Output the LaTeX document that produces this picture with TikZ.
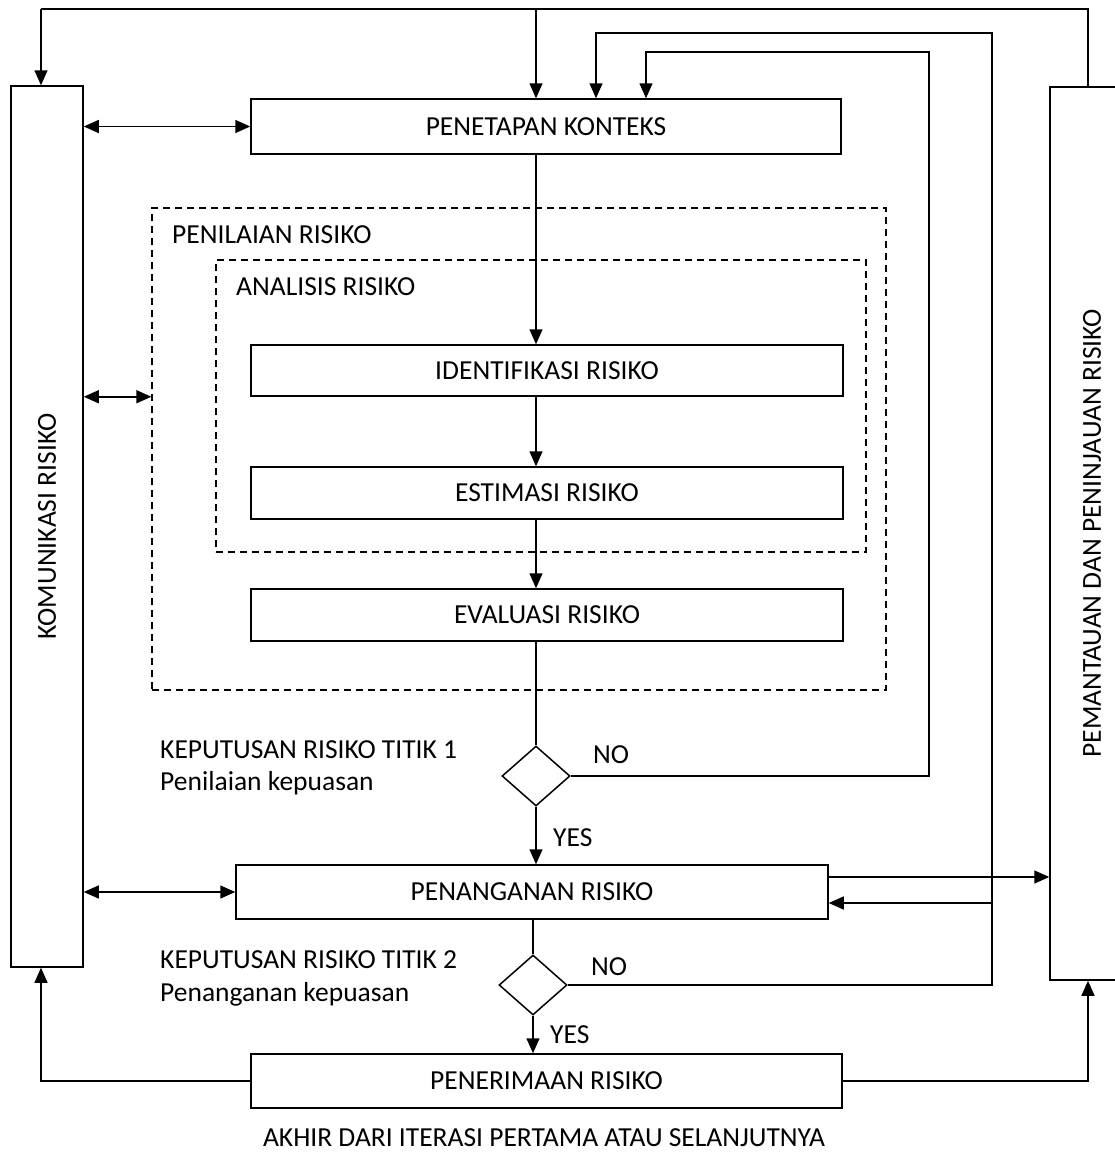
\documentclass[tikz,border=0pt]{standalone}
\usepackage{fontspec}
\setmainfont{Carlito}
\usetikzlibrary{
  arrows.meta,
  positioning,
  shapes.geometric,
}
\tikzset{
  >={Triangle[length=15pt,width=13pt]},
  every node/.append style={font=\fontsize{27.5}{33}\selectfont, text=black},
  box/.style={draw, line width=1.5pt, inner sep=0pt, align=center},
  frame/.style={draw, line width=1.3pt, dash pattern=on 7pt off 5pt, inner sep=0pt},
  choice/.style={
    shape=diamond,
    draw,
    line width=1.5pt,
    inner sep=0pt,
    minimum width=68pt,
    minimum height=60pt,
  },
  tag/.style={anchor=west, inner sep=0pt},
  flow/.style={line width=1.5pt},
}

\begin{document}
\begin{tikzpicture}[x=1pt,y=-1pt]
  \useasboundingbox (0,0) rectangle (1114,1154);

  % side boxes
  \node[box, minimum width=72pt, minimum height=881pt] (kom) at (47,526.5) {\rotatebox{90}{KOMUNIKASI RISIKO}};
  \node[box, minimum width=84pt, minimum height=893pt] (pem) at (1092,533.5) {\rotatebox{90}{PEMANTAUAN DAN PENINJAUAN RISIKO}};

  % assessment frames
  \node[frame, minimum width=734pt, minimum height=482pt] (assess) at (519,449) {};
  \node[frame, minimum width=650pt, minimum height=292pt] (analysis) at (541,406) {};
  \node[tag] (assesslbl) at (172,235) {PENILAIAN RISIKO};
  \node[tag] (analysislbl) at (236,287) {ANALISIS RISIKO};

  % process boxes
  \node[box, minimum width=590pt, minimum height=55pt] (ctx) at (546,126.5) {PENETAPAN KONTEKS};
  \node[box, minimum width=592pt, minimum height=51pt] (idf) at (547,370.5) {IDENTIFIKASI RISIKO};
  \node[box, minimum width=592pt, minimum height=52pt] (est) at (547,493) {ESTIMASI RISIKO};
  \node[box, minimum width=592pt, minimum height=52pt] (eva) at (547,615) {EVALUASI RISIKO};
  \node[box, minimum width=592pt, minimum height=54pt] (trt) at (532,892) {PENANGANAN RISIKO};
  \node[box, minimum width=591pt, minimum height=54pt] (acc) at (546.5,1081) {PENERIMAAN RISIKO};

  % decisions
  \node[choice] (d1) at (536,776) {};
  \node[choice] (d2) at (533,985) {};
  \node[tag] (d1top) at (160,750) {KEPUTUSAN RISIKO TITIK 1};
  \node[tag] (d1sub) at (160,783) {Penilaian kepuasan};
  \node[tag] (d2top) at (160,960) {KEPUTUSAN RISIKO TITIK 2};
  \node[tag] (d2sub) at (160,994) {Penanganan kepuasan};
  \node[tag] (d1no) at (593,755) {NO};
  \node[tag] (d1yes) at (553,838) {YES};
  \node[tag] (d2no) at (591,967) {NO};
  \node[tag] (d2yes) at (550,1035) {YES};

  \node (endnote) at (544,1138) {AKHIR DARI ITERASI PERTAMA ATAU SELANJUTNYA};

  % main flow
  \draw[flow,->] (d1 |- ctx.south) -- (d1 |- idf.north);
  \draw[flow,->] (d1 |- idf.south) -- (d1 |- est.north);
  \draw[flow,->] (d1 |- est.south) -- (d1 |- eva.north);
  \draw[flow] (d1 |- eva.south) -- (d1.north);
  \draw[flow,->] (d1.south) -- (d1 |- trt.north);
  \draw[flow] (d2 |- trt.south) -- (d2.north);
  \draw[flow,->] (d2.south) -- (d2 |- acc.north);

  % communication links
  \draw[flow,<->] (kom.east |- ctx.west) -- (ctx.west);
  \draw[flow,<->] (kom.east |- idf.south) -- (assess.west |- idf.south);
  \draw[flow,<->] (kom.east |- trt.west) -- (trt.west);

  % top feedback
  \coordinate (topR) at (1088,9);
  \coordinate (topL) at (41,9);
  \draw[flow] (pem.north -| topR) -- (topR) -- (topL);
  \draw[flow,->] (topL) -- (topL |- kom.north);
  \draw[flow,->] (d1 |- topL) -- (d1 |- ctx.north);

  % NO loops
  \coordinate (loopA) at (929,52);
  \coordinate (loopAx) at (646,52);
  \draw[flow,->] (d1.east) -| (loopA) -- (loopAx) -- (loopAx |- ctx.north);
  \coordinate (loopB) at (992,33);
  \coordinate (loopBx) at (596,33);
  \draw[flow,->] (d2.east) -| (loopB) -- (loopBx) -- (loopBx |- ctx.north);
  \coordinate (back) at (992,903);
  \draw[flow,->] (back) -- (back -| trt.east);
  \coordinate (out) at (0,877);
  \draw[flow,->] (trt.east |- out) -- (pem.west |- out);

  % acceptance
  \draw[flow,->] (acc.west) -| (topL |- kom.south);
  \draw[flow,->] (acc.east) -| (topR |- pem.south);
\end{tikzpicture}
\end{document}
